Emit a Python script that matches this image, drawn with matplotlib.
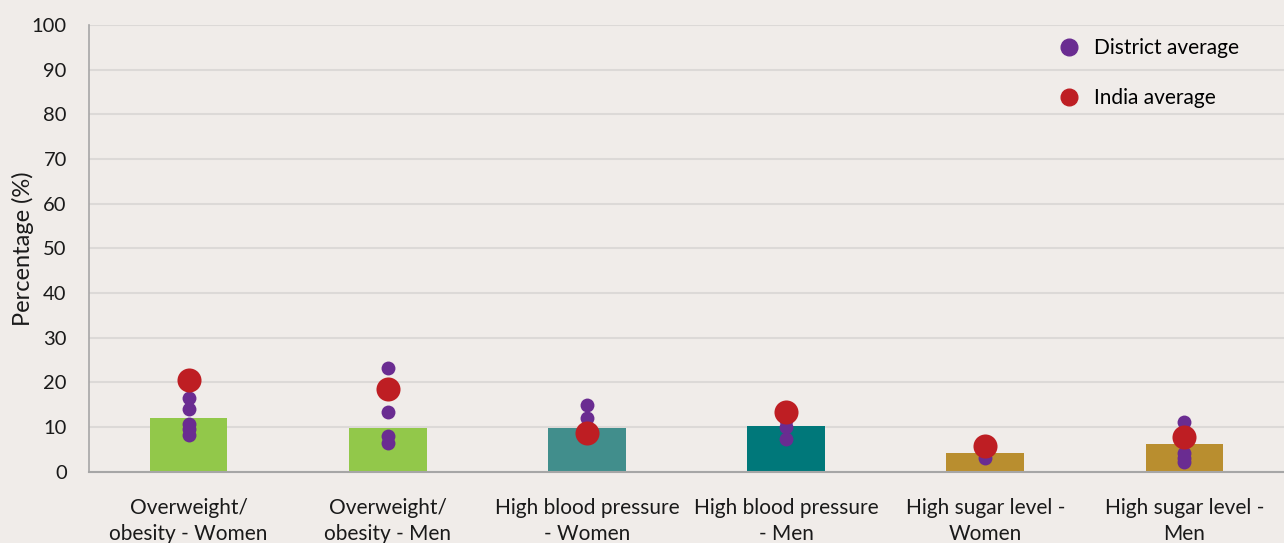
import matplotlib.pyplot as plt
from matplotlib.lines import Line2D
import numpy as np

plt.rcParams['font.family'] = ['Lato', 'DejaVu Sans']

categories = ['Overweight/\nobesity - Women', 'Overweight/\nobesity - Men',
              'High blood pressure\n- Women', 'High blood pressure\n- Men',
              'High sugar level -\nWomen', 'High sugar level -\nMen']
state_values = [12.1, 9.9, 9.9, 10.3, 4.3, 6.3]
district_values = [
    [16.6, 14.1, 10.7, 9.6, 8.3],
    [23.2, 13.3, 8.0, 6.5],
    [14.9, 12.0, 8.5],
    [11.5, 10.1, 7.3],
    [3.1],
    [11.1, 4.2, 3.2, 2.1],
]
india_values = [20.6, 18.5, 8.7, 13.4, 5.8, 7.9]
bar_colors = ['#92c84a', '#92c84a', '#418e8c', '#00787a', '#b98e2f', '#b98e2f']

bg = '#f0ece9'
purple = '#6a2c91'
red = '#be1e23'

fig = plt.figure(figsize=(12.84, 5.43), dpi=100, facecolor=bg)
ax = fig.add_axes([0.0693, 0.131, 0.9307, 0.823], facecolor=bg)

x = np.arange(len(categories))
ax.bar(x, state_values, width=0.39, color=bar_colors, zorder=2)

for i, vals in enumerate(district_values):
    ax.scatter([x[i]] * len(vals), vals, s=100, color=purple, zorder=3, linewidths=0)
ax.scatter(x, india_values, s=300, color=red, zorder=4, linewidths=0)

ax.set_xlim(-0.5, len(categories) - 0.5)
ax.set_ylim(0, 100)
ax.set_yticks(np.arange(0, 101, 10))
ax.yaxis.grid(True, color='#dcd9d7', linewidth=1.5, zorder=0)
ax.set_axisbelow(True)

for side in ['top', 'right']:
    ax.spines[side].set_visible(False)
ax.spines['left'].set_color('#a6a6a6')
ax.spines['bottom'].set_color('#a6a6a6')
ax.spines['left'].set_linewidth(1.2)
ax.spines['bottom'].set_linewidth(1.5)

ax.set_xticks(x)
ax.set_xticklabels(categories, fontsize=15, color='#1a1a1a', linespacing=1.35)
ax.tick_params(axis='x', length=0, pad=19)
ax.tick_params(axis='y', length=0, labelsize=14.5, labelcolor='#1a1a1a', pad=16)
ax.set_ylabel('Percentage (%)', fontsize=17, color='#1a1a1a', labelpad=-2)

handles = [
    Line2D([], [], marker='o', linestyle='', color=purple, markersize=12),
    Line2D([], [], marker='o', linestyle='', color=red, markersize=12),
]
ax.legend(handles, ['District average', 'India average'], loc='upper right',
          bbox_to_anchor=(0.978, 1.013), frameon=False, fontsize=15,
          labelspacing=1.45, handletextpad=0.2)

fig.savefig('out.png', dpi=100, facecolor=bg)
